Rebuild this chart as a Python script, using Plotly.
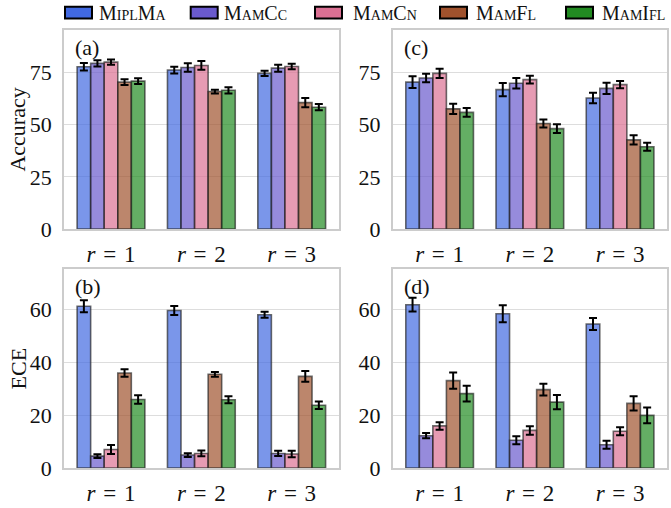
import plotly.graph_objects as go
from plotly.subplots import make_subplots

# categories and series
ratios = ["r = 1", "r = 2", "r = 3"]
tick_labels = ["<i>r</i>\u2004=\u20041", "<i>r</i>\u2004=\u20042", "<i>r</i>\u2004=\u20043"]
methods = ["MiplMa", "MamCc", "MamCn", "MamFl", "MamIfl"]
colors = ["#4169E1", "#6A5ACD", "#DB7093", "#A0522D", "#228B22"]

# (a) accuracy, setting 1: one row per method, one value per ratio
acc_a_mean = [[77.8, 76.2, 74.6], [79.4, 77.4, 77.1], [80.0, 78.4, 77.9],
              [70.4, 65.9, 60.6], [70.9, 66.5, 58.4]]
acc_a_err = [[1.8, 1.6, 1.3], [1.5, 2.0, 1.7], [1.3, 2.1, 1.3],
             [1.4, 0.9, 2.2], [1.4, 1.5, 1.5]]

# (c) accuracy, setting 2
acc_c_mean = [[70.4, 66.8, 62.8], [72.4, 69.9, 67.4], [74.6, 71.6, 69.2],
              [57.6, 50.6, 42.7], [55.9, 48.1, 39.4]]
acc_c_err = [[2.8, 3.2, 2.5], [2.0, 2.5, 2.7], [2.2, 1.9, 1.7],
             [2.5, 1.9, 2.2], [2.1, 2.1, 1.9]]

# (b) ECE, setting 1
ece_b_mean = [[61.1, 59.5, 57.9], [4.5, 4.9, 5.5], [7.0, 5.5, 5.3],
              [35.9, 35.4, 34.6], [25.9, 25.8, 23.7]]
ece_b_err = [[2.3, 1.7, 1.1], [0.7, 0.7, 1.0], [1.7, 1.1, 1.2],
             [1.4, 0.9, 2.0], [1.6, 1.3, 1.4]]

# (d) ECE, setting 2
ece_d_mean = [[61.7, 58.3, 54.4], [12.2, 10.5, 8.8], [15.9, 14.2, 13.9],
              [33.0, 29.6, 24.4], [28.1, 24.9, 19.9]]
ece_d_err = [[2.6, 3.2, 2.3], [1.0, 1.5, 1.5], [1.4, 1.6, 1.5],
             [3.1, 2.2, 2.7], [3.0, 2.7, 3.0]]

acc_ticks = [0, 25, 50, 75]
ece_ticks = [0, 20, 40, 60]
panel_names = ["(a)", "(c)", "(b)", "(d)"]

FONT = "Liberation Serif"
W, H = 671, 508


def rgba(hex_color, alpha):
    h = hex_color.lstrip("#")
    r, g, b = int(h[0:2], 16), int(h[2:4], 16), int(h[4:6], 16)
    return f"rgba({r},{g},{b},{alpha})"


fig = make_subplots(rows=2, cols=2)

panels = [
    (1, 1, acc_a_mean, acc_a_err),
    (1, 2, acc_c_mean, acc_c_err),
    (2, 1, ece_b_mean, ece_b_err),
    (2, 2, ece_d_mean, ece_d_err),
]

for row, col, means, errs in panels:
    for i, name in enumerate(methods):
        fig.add_trace(
            go.Bar(
                x=ratios,
                y=means[i],
                name=name,
                showlegend=False,
                marker=dict(color=rgba(colors[i], 0.7),
                            line=dict(color="rgba(30,30,30,0.65)", width=1.6)),
                error_y=dict(type="data", array=errs[i], visible=True,
                             color="black", thickness=2, width=4),
            ),
            row=row, col=col,
        )

# panel geometry in pixels (left, right, top, bottom)
x_left = (64, 338.7)
x_right = (392.7, 667)
y_top = (31, 235)
y_bot = (276, 480.3)


def xdom(px):
    return [px[0] / W, px[1] / W]


def ydom(px):
    return [1 - px[1] / H, 1 - px[0] / H]


axis_common = dict(showline=True, mirror=True, linecolor="#cccccc", linewidth=1.5,
                   zeroline=False)
tickfont = dict(family=FONT, size=22, color="#111111")
xtickfont = dict(family=FONT, size=23, color="#111111")

for idx, (row, col) in enumerate([(1, 1), (1, 2), (2, 1), (2, 2)]):
    xd = xdom(x_left if col == 1 else x_right)
    yd = ydom(y_top if row == 1 else y_bot)
    fig.update_xaxes(domain=xd, type="category", range=[-0.52, 2.52],
                     tickvals=ratios, ticktext=tick_labels, tickfont=xtickfont,
                     showgrid=False, ticks="", ticklabelstandoff=4,
                     row=row, col=col, **axis_common)
    if row == 1:
        fig.update_yaxes(domain=yd, range=[0, 95.3], tickvals=acc_ticks,
                         row=row, col=col)
    else:
        fig.update_yaxes(domain=yd, range=[0, 75.2], tickvals=ece_ticks,
                         row=row, col=col)
    fig.update_yaxes(showgrid=True, gridcolor="#dddddd", gridwidth=1,
                     tickfont=tickfont, ticks="", ticklabelstandoff=6,
                     row=row, col=col, **axis_common)

annotations = []
# panel letters
for idx, (row, col) in enumerate([(1, 1), (1, 2), (2, 1), (2, 2)]):
    xp = x_left if col == 1 else x_right
    yp = y_top if row == 1 else y_bot
    annotations.append(dict(
        x=(xp[0] + 9) / W, y=1 - (yp[0] + 3) / H, xref="paper", yref="paper",
        xanchor="left", yanchor="top", showarrow=False, text=panel_names[idx],
        font=dict(family=FONT, size=22, color="#111111")))

# y-axis titles
for text, yp in [("Accuracy", y_top), ("ECE", y_bot)]:
    annotations.append(dict(
        x=18 / W, y=1 - (yp[0] + yp[1]) / 2 / H, xref="paper", yref="paper",
        xanchor="center", yanchor="middle", showarrow=False, text=text,
        textangle=-90, font=dict(family=FONT, size=22, color="#111111")))

# legend row across the top
legend_patch_x = [65, 190.7, 315, 440, 566]
legend_text_x = [97, 222, 351, 474, 600]
shapes = []
for i, name in enumerate(methods):
    shapes.append(dict(type="rect", xref="paper", yref="paper",
                       x0=legend_patch_x[i] / W, x1=(legend_patch_x[i] + 27) / W,
                       y0=1 - 19 / H, y1=1 - 7 / H,
                       fillcolor=colors[i], line=dict(color="black", width=2)))
    annotations.append(dict(
        x=legend_text_x[i] / W, y=1 - 13 / H, xref="paper", yref="paper",
        xanchor="left", yanchor="middle", showarrow=False, text=name,
        font=dict(family=FONT, size=20, color="#111111", variant="small-caps")))

fig.update_layout(
    width=W, height=H,
    margin=dict(l=0, r=0, t=0, b=0),
    barmode="group", bargap=0.25, bargroupgap=0,
    plot_bgcolor="white", paper_bgcolor="white",
    annotations=annotations, shapes=shapes,
    font=dict(family=FONT),
)

fig.write_html("out.html")
